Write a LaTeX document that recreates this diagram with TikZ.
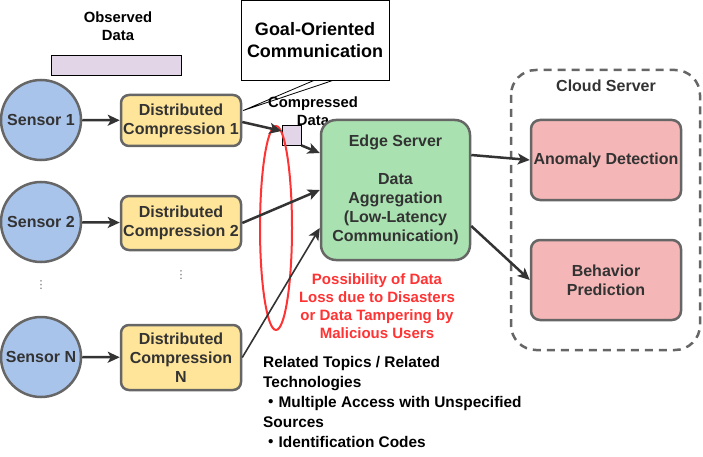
\documentclass[tikz,border=0pt]{standalone}
\usepackage{fontspec}
\setmainfont{Liberation Sans}
\newfontfamily\cjk{Noto Sans CJK JP}
\newfontfamily\dejavu{DejaVu Sans}
\usetikzlibrary{shapes.geometric,arrows.meta,calc}
\definecolor{strk}{HTML}{666666}
\definecolor{txt}{HTML}{333333}
\definecolor{sensorfill}{HTML}{A9C4EB}
\definecolor{dcfill}{HTML}{FFE599}
\definecolor{edgefill}{HTML}{A9E2B0}
\definecolor{pinkfill}{HTML}{F4B6B6}
\definecolor{purplefill}{HTML}{E1D5E7}
\definecolor{riskred}{HTML}{FF3333}
\tikzset{
  basefont/.style={font=\fontsize{16}{19}\selectfont\bfseries, text=txt},
  sensorbox/.style={circle, draw=strk, line width=2.5pt, fill=sensorfill, minimum size=80pt, inner sep=0pt, basefont},
  dcbox/.style={rectangle, rounded corners=8pt, draw=strk, line width=2.5pt, fill=dcfill, minimum width=120pt, align=center, inner sep=0pt, basefont},
  cloudbox/.style={rectangle, rounded corners=9pt, draw=strk, line width=2.5pt, fill=pinkfill, minimum width=150pt, minimum height=80pt, align=center, inner sep=0pt, basefont},
  dotsnode/.style={text=strk, font=\dejavu\fontsize{11}{11}\selectfont, inner sep=0pt},
  conn/.style={draw=txt, line width=2.5pt, -{Stealth[length=12pt,width=11pt,inset=3pt]}},
}
\begin{document}
\begin{tikzpicture}[x=1pt,y=-1pt]
\useasboundingbox (0,0) rectangle (703,457);
% sensors
\node[sensorbox] (s1) at (41,120) {Sensor 1};
\node[sensorbox] (s2) at (41,222) {Sensor 2};
\node[sensorbox] (sN) at (41,357) {Sensor N};
\node[dotsnode] (sdots) at (41,285) {⋮};
% distributed compression
\node[dcbox, minimum height=51pt] (d1) at (181,120.5) {Distributed\\Compression 1};
\node[dcbox, minimum height=54pt] (d2) at (181,223) {Distributed\\Compression 2};
\node[dcbox, minimum height=65pt] (dN) at (181,357.5) {Distributed\\Compression\\N};
\node[dotsnode] (ddots) at (181,275) {⋮};
% observed data
\node[font=\fontsize{14.8}{18}\selectfont\bfseries, align=center] (obslabel) at (118,26) {Observed\\Data};
\node[rectangle, draw=black, line width=0.8pt, fill=purplefill, minimum width=130pt, minimum height=20pt, inner sep=0pt] (obsrect) at (116,65) {};
% goal-oriented communication callout
\node[rectangle, draw=black, line width=0.8pt, fill=white, minimum width=148pt, minimum height=80pt, align=center, font=\fontsize{18}{22}\selectfont\bfseries] (goal) at (315,40) {Goal-Oriented\\Communication};
\coordinate (gtip) at ($(d1.east)+(1,-10)$);
\draw[line width=0.8pt] ($(goal.south)+(-1,0)$) -- (gtip) -- ($(goal.south)+(18,0)$);
% compressed data
\node[font=\fontsize{14.8}{18}\selectfont\bfseries, align=center] (cdlabel) at (313,111) {Compressed\\Data};
\node[rectangle, draw=black, line width=0.8pt, fill=purplefill, minimum width=19pt, minimum height=20pt, inner sep=0pt] (sq) at (291.5,135) {};
% edge server
\node[rectangle, rounded corners=15pt, draw=strk, line width=2.5pt, fill=edgefill, minimum width=149pt, minimum height=140pt, align=center, inner sep=0pt, basefont] (edge) at (395.5,190) {Edge Server\\[19pt]Data\\Aggregation\\(Low-Latency\\Communication)};
% risk ellipse
\node[ellipse, draw=riskred, line width=2pt, minimum width=32pt, minimum height=204pt, inner sep=0pt] (risk) at (276,228) {};
\node[text=riskred, align=center, font=\fontsize{15}{18}\selectfont\bfseries] (risktext) at (377,306) {Possibility of Data\\Loss due to Disasters\\or Data Tampering by\\Malicious Users};
% related topics
\node[anchor=north west, align=left, inner sep=0pt, font=\fontsize{15.4}{20}\selectfont\bfseries] (related) at (263,356) {Related Topics / Related\\Technologies\\{\cjk ・}Multiple Access with Unspecified\\Sources\\{\cjk ・}Identification Codes};
% cloud server
\draw[draw=strk, line width=2.5pt, dash pattern=on 8pt off 6pt, rounded corners=25pt] (511,70) rectangle (700,350);
\node[basefont] (cloudlabel) at (606,86) {Cloud Server};
\node[cloudbox] (anom) at (606,160) {Anomaly Detection};
\node[cloudbox] (behav) at (606,280) {Behavior\\Prediction};
% connectors
\draw[conn] (s1) -- (d1);
\draw[conn] (s2) -- (d2);
\draw[conn] (sN) -- (dN);
\draw[conn] ($(d1.east)+(0,1.5)$) -- ($(sq.west)+(0,-4)$);
\draw[conn] (sq.south east) -- ($(edge.west)+(0,-37)$);
\draw[conn] (d2.east) -- (edge.west);
\draw[draw=txt, line width=1.6pt, -{Stealth[length=12pt,width=11pt,inset=3pt]}] (dN.east) -- ($(edge.west)+(0,38)$);
\draw[conn] ($(edge.east)+(0,-35)$) -- (anom.west);
\draw[conn] ($(edge.east)+(0,36)$) -- (behav.west);
\end{tikzpicture}
\end{document}
